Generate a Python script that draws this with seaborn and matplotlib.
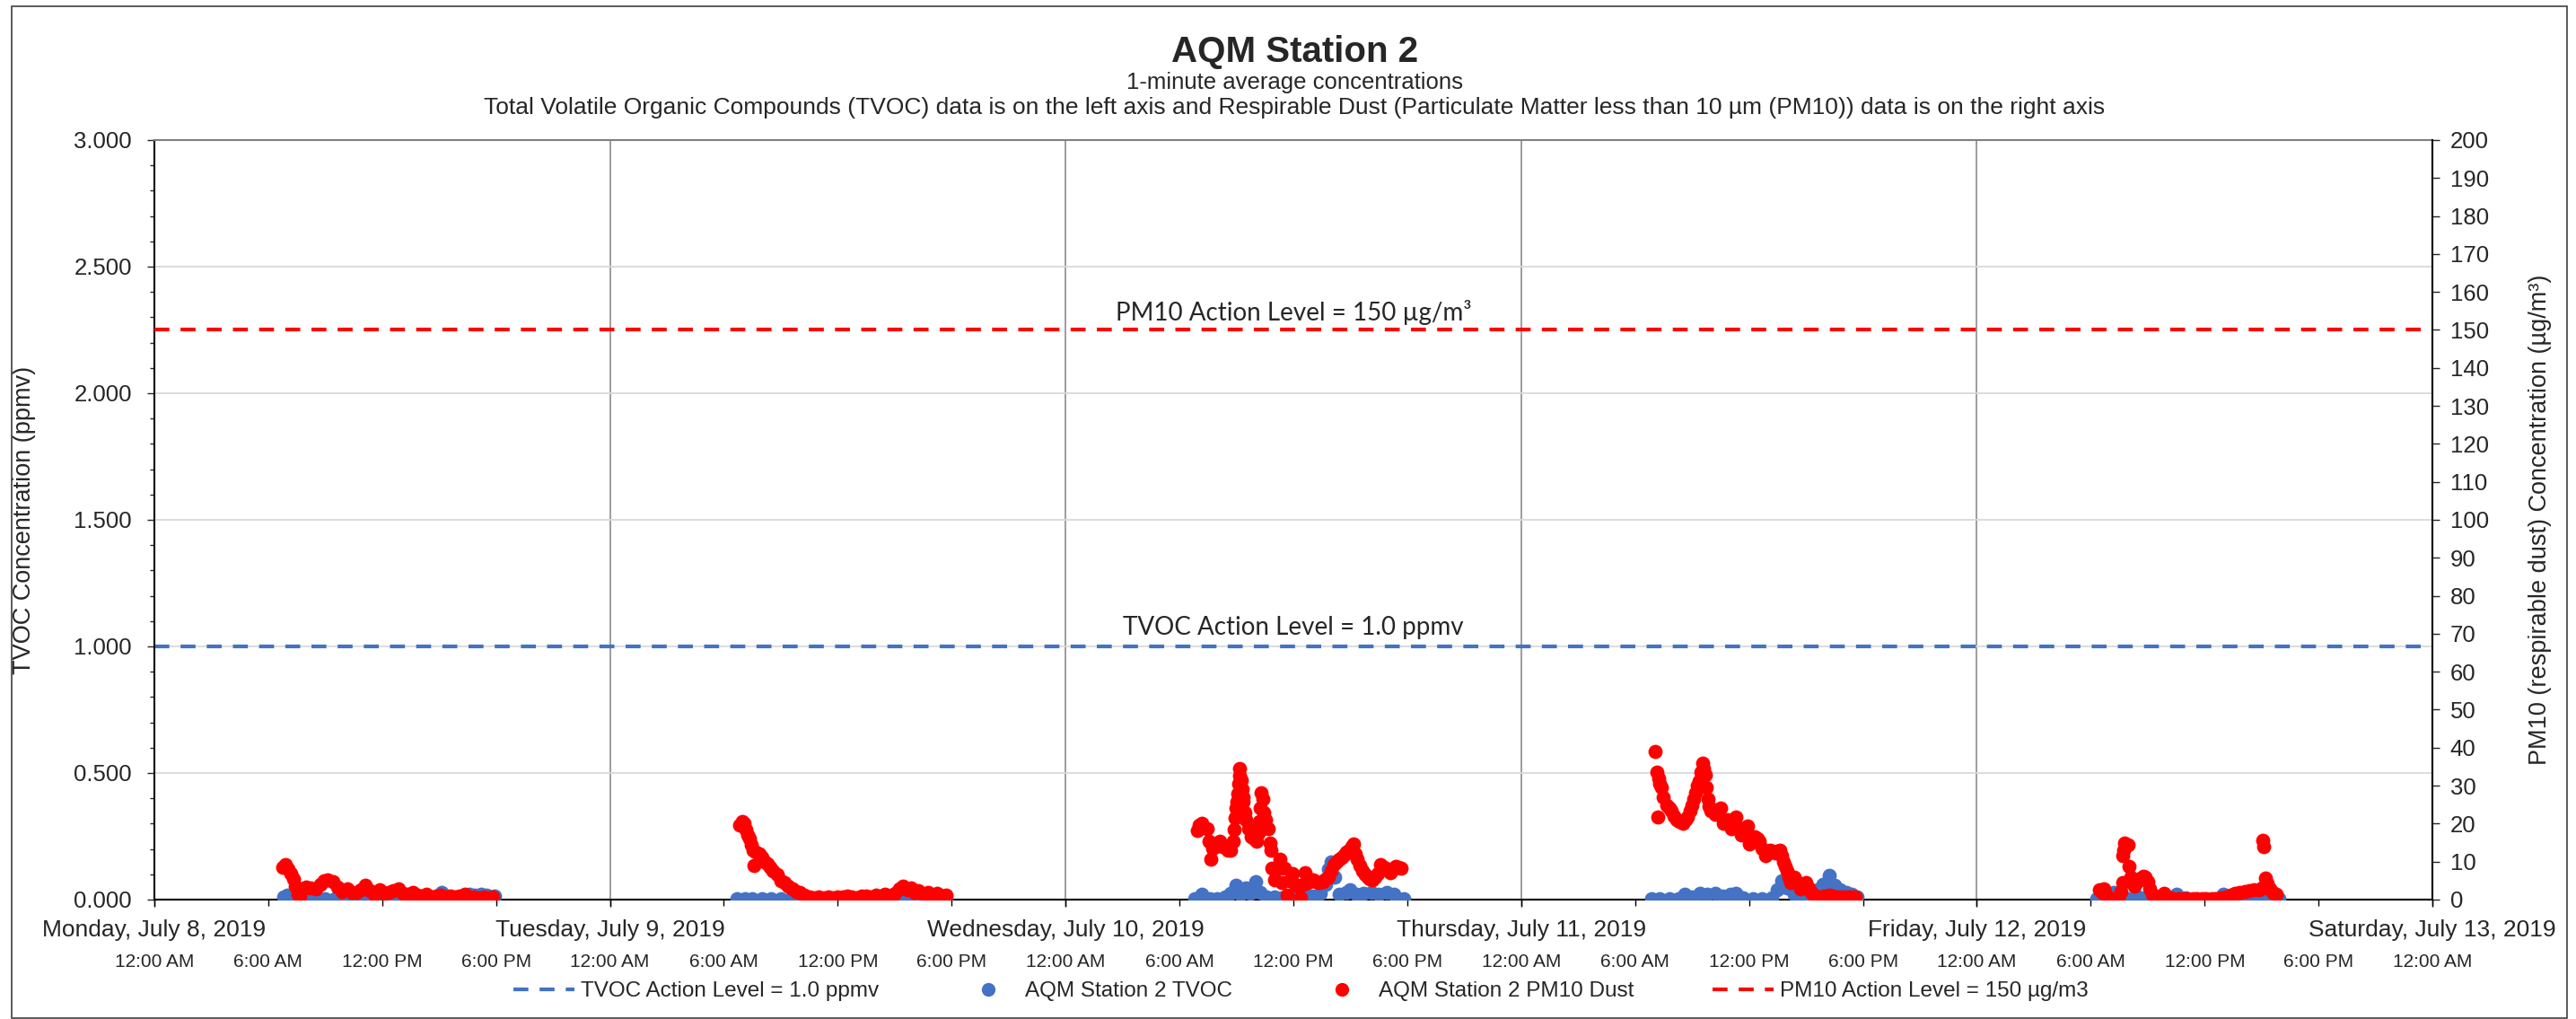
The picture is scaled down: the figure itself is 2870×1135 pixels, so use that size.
import matplotlib
matplotlib.use('Agg')
import matplotlib.pyplot as plt
import matplotlib.dates as mdates
from matplotlib.lines import Line2D
from matplotlib.patches import Rectangle
from matplotlib.ticker import MultipleLocator, FormatStrFormatter
import numpy as np
import pandas as pd
import seaborn as sns

# ---- data (hours after midnight for each day) ----
DAYS = ['2019-07-08', '2019-07-09', '2019-07-10', '2019-07-11', '2019-07-12']

MON_TVOC_H = [6.8, 7.0, 7.3, 7.6, 8.0, 8.5, 9.0, 9.5, 10.0, 10.5, 11.0, 11.5, 12.0, 12.5, 13.0,
              13.5, 14.0, 14.5, 14.9, 15.15, 15.4, 15.7, 16.0, 16.3, 16.6, 16.9, 17.2, 17.5, 17.9]
MON_TVOC = [0.012, 0.018, 0.008, 0.004, 0.003, 0.004, 0.003, 0.002, 0.004, 0.003, 0.002, 0.003, 0.002,
            0.003, 0.002, 0.002, 0.003, 0.004, 0.012, 0.028, 0.015, 0.005, 0.010, 0.016, 0.020, 0.016,
            0.020, 0.018, 0.014]
TUE_TVOC_H = [6.7, 7.1, 7.5, 8.0, 8.5, 9.0, 9.5, 10.0, 10.5, 11.0, 11.5, 12.0, 12.5, 13.0, 13.5,
              14.0, 14.4, 14.8, 15.2, 15.6, 16.0, 16.4, 16.8, 17.2, 17.7]
TUE_TVOC = [0.002, 0.003, 0.002, 0.003, 0.002, 0.003, 0.002, 0.004, 0.003, 0.005, 0.004, 0.005, 0.004,
            0.006, 0.005, 0.007, 0.018, 0.008, 0.012, 0.010, 0.015, 0.012, 0.020, 0.015, 0.012]
WED_TVOC_H = [6.8, 7.2, 7.6, 8.0, 8.4, 8.7, 8.95, 9.2, 9.5, 9.75, 10.0, 10.25, 10.6, 11.0, 11.4,
              11.8, 12.2, 12.6, 13.0, 13.4, 13.7, 13.85, 14.0, 14.15, 14.4, 14.8, 15.0, 15.3, 15.7,
              16.1, 16.5, 16.9, 17.3, 17.8]
WED_TVOC = [0.002, 0.020, 0.003, 0.004, 0.010, 0.025, 0.055, 0.020, 0.045, 0.025, 0.070, 0.030, 0.010,
            0.012, 0.008, 0.015, 0.010, 0.020, 0.015, 0.025, 0.060, 0.120, 0.150, 0.090, 0.020, 0.030,
            0.040, 0.020, 0.025, 0.030, 0.020, 0.030, 0.020, 0.005]
THU_TVOC_H = [6.85, 7.3, 7.8, 8.3, 8.6, 9.0, 9.4, 9.8, 10.2, 10.6, 11.0, 11.3, 11.7, 12.2, 12.7,
              13.2, 13.5, 13.7, 14.0, 14.4, 14.8, 15.2, 15.6, 15.9, 16.2, 16.5, 16.8, 17.1, 17.4, 17.7]
THU_TVOC = [0.002, 0.003, 0.002, 0.004, 0.020, 0.010, 0.025, 0.020, 0.025, 0.015, 0.020, 0.025, 0.008,
            0.005, 0.004, 0.006, 0.040, 0.075, 0.045, 0.020, 0.015, 0.020, 0.040, 0.060, 0.095, 0.055,
            0.040, 0.030, 0.020, 0.010]
FRI_TVOC_H = [6.3, 6.7, 7.0, 7.2, 7.5, 8.0, 8.5, 9.0, 9.5, 10.0, 10.5, 11.0, 11.5, 12.0, 12.5, 13.0,
              13.5, 14.0, 14.5, 15.0, 15.5, 15.9]
FRI_TVOC = [0.002, 0.004, 0.015, 0.030, 0.010, 0.005, 0.010, 0.015, 0.005, 0.008, 0.020, 0.006, 0.003,
            0.004, 0.005, 0.020, 0.012, 0.008, 0.010, 0.012, 0.008, 0.005]

MON_PM10_H = [6.78, 6.9, 7.05, 7.2, 7.35, 7.45, 7.55, 7.65, 7.8, 8.0, 8.25, 8.5, 8.75, 8.95, 9.15,
              9.4, 9.65, 9.9, 10.15, 10.4, 10.65, 10.9, 11.1, 11.35, 11.6, 11.85, 12.1, 12.35, 12.6,
              12.85, 13.1, 13.35, 13.6, 13.85, 14.1, 14.35, 14.6, 14.85, 15.1, 15.35, 15.6, 15.85,
              16.1, 16.35, 16.6, 16.85, 17.1, 17.35, 17.6, 17.85]
MON_PM10 = [8.5, 9.2, 8.0, 6.8, 5.5, 3.5, 1.5, 1.0, 2.8, 3.2, 3.0, 2.8, 4.0, 5.0, 5.3, 4.8, 3.2, 2.2,
            2.8, 2.0, 1.8, 2.5, 3.8, 2.4, 1.5, 2.6, 1.6, 2.0, 2.4, 2.8, 1.6, 1.3, 1.8, 1.2, 1.0, 1.4,
            0.8, 1.0, 1.2, 0.6, 0.9, 0.7, 1.0, 1.3, 0.6, 0.8, 0.5, 0.7, 0.5, 0.6]
TUE_PM10_H = [6.85, 6.95, 7.05, 7.15, 7.25, 7.35, 7.45, 7.55, 7.6, 7.7, 7.85, 8.0, 8.15, 8.3, 8.45,
              8.6, 8.8, 9.0, 9.2, 9.4, 9.6, 9.8, 10.0, 10.25, 10.5, 10.75, 11.0, 11.25, 11.5, 11.75,
              12.0, 12.25, 12.5, 12.75, 13.0, 13.25, 13.5, 13.75, 14.0, 14.25, 14.5, 14.75, 15.0,
              15.25, 15.45, 15.65, 15.85, 16.05, 16.25, 16.5, 16.75, 17.0, 17.25, 17.5, 17.7]
TUE_PM10 = [19.5, 20.5, 20.0, 18.5, 17.0, 16.0, 14.5, 13.0, 9.0, 12.5, 12.0, 11.0, 10.0, 9.5, 8.5,
            7.5, 6.5, 5.0, 4.5, 3.5, 2.8, 2.2, 1.8, 1.2, 0.8, 0.5, 0.6, 0.4, 0.7, 0.5, 0.8, 0.6, 0.9,
            0.7, 0.5, 0.9, 1.0, 0.7, 1.1, 0.8, 1.3, 1.0, 1.6, 2.8, 3.6, 2.5, 3.0, 2.0, 2.4, 1.5, 1.9,
            1.2, 1.6, 0.9, 1.2]
WED_PM10_H = [6.92, 7.05, 7.19, 7.33, 7.47, 7.55, 7.66, 7.75, 7.87, 8.0, 8.14, 8.28, 8.42, 8.55,
              8.69, 8.82, 8.87, 8.92, 8.97, 9.01, 9.06, 9.1, 9.14, 9.18, 9.24, 9.29, 9.33, 9.37,
              9.44, 9.5, 9.64, 9.77, 9.9, 10.05, 10.15, 10.22, 10.27, 10.32, 10.37, 10.45, 10.54,
              10.67, 10.75, 10.81, 10.86, 11.0, 11.13, 11.27, 11.4, 11.54, 11.68, 11.8, 11.95, 12.1,
              12.22, 12.36, 12.5, 12.63, 12.77, 12.9, 13.04, 13.17, 13.31, 13.45, 13.58, 13.72,
              13.85, 14.0, 14.13, 14.27, 14.4, 14.54, 14.67, 14.8, 14.94, 15.05, 15.16, 15.26,
              15.35, 15.48, 15.62, 15.76, 15.9, 16.03, 16.17, 16.3, 16.44, 16.57, 16.7, 16.85,
              16.98, 17.12, 17.26, 17.4, 17.53, 17.66]
WED_PM10 = [18.2, 19.5, 20.2, 19.0, 18.6, 15.4, 10.7, 13.5, 13.9, 15.0, 15.4, 14.0, 13.9, 13.0,
            13.1, 15.4, 18.5, 21.5, 24.0, 25.7, 28.0, 30.4, 32.5, 34.4, 31.5, 29.0, 27.0, 25.7,
            23.0, 21.0, 18.6, 16.6, 16.0, 15.4, 17.5, 20.5, 24.0, 28.1, 26.5, 23.0, 21.0, 18.6,
            15.0, 13.1, 8.3, 5.2, 8.0, 10.7, 4.4, 8.3, 1.25, 5.0, 6.8, 4.0, 3.6, 0.5, 4.0, 7.2,
            4.4, 5.0, 5.2, 4.8, 4.4, 4.8, 4.8, 5.5, 6.0, 7.5, 9.1, 10.0, 10.7, 11.2, 11.9, 12.5,
            13.1, 14.0, 14.7, 12.0, 10.7, 9.0, 7.6, 6.5, 6.0, 5.5, 5.2, 6.0, 6.8, 9.1, 8.7, 8.3,
            7.8, 7.2, 8.0, 8.7, 8.6, 8.3]
THU_PM10_H = [7.05, 7.15, 7.2, 7.24, 7.3, 7.4, 7.5, 7.65, 7.8, 7.9, 8.05, 8.2, 8.35, 8.5, 8.65,
              8.75, 8.9, 9.0, 9.1, 9.2, 9.28, 9.35, 9.45, 9.55, 9.62, 9.7, 9.76, 9.83, 9.9, 10.0,
              10.2, 10.35, 10.5, 10.65, 10.8, 10.9, 11.05, 11.2, 11.3, 11.45, 11.6, 11.75, 11.9,
              12.0, 12.15, 12.3, 12.45, 12.55, 12.7, 12.85, 13.0, 13.1, 13.25, 13.4, 13.5, 13.6,
              13.7, 13.8, 13.9, 14.0, 14.1, 14.2, 14.3, 14.4, 14.55, 14.7, 14.85, 15.0, 15.15,
              15.3, 15.4, 15.5, 15.65, 15.8, 16.0, 16.2, 16.4, 16.6, 16.8, 17.0, 17.2, 17.35,
              17.5, 17.6]
THU_PM10 = [39.1, 33.6, 21.7, 32.0, 30.5, 29.5, 27.0, 24.9, 24.0, 23.3, 22.0, 21.0, 20.5, 20.2,
            21.0, 21.7, 23.5, 24.9, 26.5, 28.1, 30.0, 31.2, 33.5, 35.9, 34.5, 32.8, 29.5, 26.5,
            24.5, 23.3, 22.5, 23.0, 24.1, 20.2, 20.5, 21.0, 18.6, 20.0, 21.7, 19.0, 17.0, 18.5,
            19.4, 14.7, 15.5, 16.6, 16.0, 15.4, 13.5, 11.5, 12.3, 13.1, 12.8, 12.3, 12.8, 13.1,
            11.5, 9.9, 8.8, 7.6, 6.0, 4.4, 5.2, 6.0, 4.5, 2.8, 3.6, 4.4, 3.0, 2.0, 1.2, 0.5, 0.6,
            0.8, 1.0, 1.25, 1.0, 0.8, 0.7, 0.8, 0.7, 0.6, 0.7, 0.8]
FRI_PM10_H = [6.45, 6.58, 6.7, 6.8, 7.0, 7.15, 7.3, 7.45, 7.6, 7.68, 7.7, 7.74, 7.78, 7.95, 8.0,
              8.1, 8.2, 8.3, 8.4, 8.5, 8.62, 8.75, 8.86, 9.0, 9.1, 9.25, 9.4, 9.56, 9.72, 9.88,
              10.05, 10.2, 10.35, 10.6, 10.85, 11.1, 11.35, 11.6, 11.85, 12.1, 12.35, 12.6, 12.85,
              13.1, 13.35, 13.6, 13.85, 14.1, 14.35, 14.6, 14.85, 15.0, 15.08, 15.12, 15.2, 15.3,
              15.45, 15.6, 15.75]
FRI_PM10 = [2.5, 2.0, 2.8, 1.5, 0.3, 0.2, 0.1, 0.3, 2.2, 4.4, 11.5, 13.0, 15.0, 14.4, 8.7, 6.0,
            4.7, 3.5, 4.4, 5.0, 5.6, 6.2, 6.0, 4.7, 2.8, 1.3, 0.6, 0.5, 1.0, 1.7, 0.8, 0.4, 0.2,
            0.3, 0.2, 0.3, 0.2, 0.2, 0.3, 0.2, 0.3, 0.3, 0.5, 0.8, 1.2, 1.6, 2.0, 2.2, 2.4, 2.5,
            2.6, 3.0, 15.5, 14.0, 5.6, 4.2, 2.8, 2.0, 1.5]

TVOC_ACTION = 1.0
PM10_ACTION = 150

BLUE = '#4472C4'
RED = '#FF0000'


def stack(hours_lists, value_lists, name):
    frames = []
    for day, hours, vals in zip(DAYS, hours_lists, value_lists):
        t = pd.Timestamp(day) + pd.to_timedelta(np.array(hours), unit='h')
        frames.append(pd.DataFrame({'time': t, name: vals}))
    return pd.concat(frames, ignore_index=True)


tvoc = stack([MON_TVOC_H, TUE_TVOC_H, WED_TVOC_H, THU_TVOC_H, FRI_TVOC_H],
             [MON_TVOC, TUE_TVOC, WED_TVOC, THU_TVOC, FRI_TVOC], 'tvoc')
pm10 = stack([MON_PM10_H, TUE_PM10_H, WED_PM10_H, THU_PM10_H, FRI_PM10_H],
             [MON_PM10, TUE_PM10, WED_PM10, THU_PM10, FRI_PM10], 'pm10')

sns.set_theme(style='ticks')
plt.rcParams['font.family'] = ['Liberation Sans', 'DejaVu Sans']

fig = plt.figure(figsize=(28.7, 11.35), dpi=100)
ax = fig.add_axes([0.0599, 0.1172, 0.8844, 0.7454])
ax2 = ax.twinx()

sns.scatterplot(data=tvoc, x='time', y='tvoc', ax=ax, color=BLUE, s=130,
                linewidth=0, legend=False, zorder=3)
sns.scatterplot(data=pm10, x='time', y='pm10', ax=ax2, color=RED, s=130,
                linewidth=0, legend=False, zorder=3)

dash = (0, (4, 3))
ax.axhline(TVOC_ACTION, color=BLUE, ls=dash, lw=3, zorder=2)
ax2.axhline(PM10_ACTION, color=RED, ls=dash, lw=3, zorder=2)

note_font = ['Lato', 'DejaVu Sans']
ax.annotate('TVOC Action Level = 1.0 ppmv', xy=(0.5, TVOC_ACTION),
            xycoords=('axes fraction', 'data'), xytext=(0, 15), textcoords='offset points',
            ha='center', va='center', fontsize=20, family=note_font)
ax2.annotate('PM10 Action Level = 150 µg/m³', xy=(0.5, PM10_ACTION),
             xycoords=('axes fraction', 'data'), xytext=(0, 14), textcoords='offset points',
             ha='center', va='center', fontsize=20, family=note_font)

# x axis: day labels on major ticks, time labels on 6-hour minor ticks
ax.set_xlim(pd.Timestamp('2019-07-08'), pd.Timestamp('2019-07-13'))
ax.xaxis.set_major_locator(mdates.DayLocator())
ax.xaxis.set_major_formatter(mdates.DateFormatter('%A, %B %-d, %Y'))
ax.xaxis.set_minor_locator(mdates.HourLocator(byhour=[0, 6, 12, 18]))
ax.xaxis.set_minor_formatter(mdates.DateFormatter('%-I:%M %p'))
ax.xaxis.remove_overlapping_locs = False
ax.tick_params(axis='x', which='major', length=6, width=1, color='#000000',
               labelsize=19, pad=10)
ax.tick_params(axis='x', which='minor', length=5, width=1, color='#000000',
               labelsize=15, pad=38)
ax.set_xlabel('')

# left axis
ax.set_ylim(0, 3)
ax.yaxis.set_major_locator(MultipleLocator(0.5))
ax.yaxis.set_minor_locator(MultipleLocator(0.1))
ax.yaxis.set_major_formatter(FormatStrFormatter('%.3f'))
ax.tick_params(axis='y', which='major', length=6, width=1, labelsize=18.5, pad=12)
ax.tick_params(axis='y', which='minor', length=3.5, width=1)
ax.set_ylabel('TVOC Concentration (ppmv)', fontsize=19.5)
ax.yaxis.set_label_coords(-0.052, 0.5)

ax.grid(axis='y', which='major', color='#D9D9D9', lw=1.3)
ax.grid(axis='x', which='major', color='#8C8C8C', lw=1.2)
ax.set_axisbelow(True)

# right axis
ax2.set_ylim(0, 200)
ax2.yaxis.set_major_locator(MultipleLocator(10))
ax2.tick_params(axis='y', length=6, width=1, labelsize=18.5, pad=8)
ax2.set_ylabel('PM10 (respirable dust) Concentration (µg/m³)', fontsize=19.5)
ax2.yaxis.set_label_coords(1.042, 0.5)
ax2.grid(False)

for side in ['left', 'top', 'bottom']:
    ax2.spines[side].set_visible(False)
ax2.spines['right'].set_color('#000000')
ax2.spines['right'].set_linewidth(1.5)
ax.spines['right'].set_visible(False)
ax.spines['left'].set_color('#000000')
ax.spines['left'].set_linewidth(1.5)
ax.spines['bottom'].set_color('#000000')
ax.spines['bottom'].set_linewidth(1.5)
ax.spines['top'].set_color('#7F7F7F')
ax.spines['top'].set_linewidth(1.5)

fig.text(0.5025, 0.949, 'AQM Station 2', ha='center', va='center', fontsize=29,
         fontweight='bold')
fig.text(0.5025, 0.919, '1-minute average concentrations', ha='center', va='center',
         fontsize=18.5)
fig.text(0.5025, 0.894, 'Total Volatile Organic Compounds (TVOC) data is on the left axis and '
         'Respirable Dust (Particulate Matter less than 10 µm (PM10)) data is on the right axis',
         ha='center', va='center', fontsize=19)

handles = [
    Line2D([], [], color=BLUE, ls=dash, lw=3),
    Line2D([], [], ls='none', marker='o', markersize=11, color=BLUE, markeredgewidth=0),
    Line2D([], [], ls='none', marker='o', markersize=11, color=RED, markeredgewidth=0),
    Line2D([], [], color=RED, ls=dash, lw=3),
]
labels = ['TVOC Action Level = 1.0 ppmv', 'AQM Station 2 TVOC', 'AQM Station 2 PM10 Dust',
          'PM10 Action Level = 150 µg/m3']
fig.legend(handles, labels, loc='center', bbox_to_anchor=(0.505, 0.027), ncol=4,
           frameon=False, fontsize=17.5, handlelength=2.8, handletextpad=0.3,
           columnspacing=3.6)

fig.patches.append(Rectangle((0.0045, 0.0009), 0.992, 0.9929, transform=fig.transFigure,
                             fill=False, edgecolor='#404040', lw=1.2))

fig.savefig('out.png', dpi=100)
